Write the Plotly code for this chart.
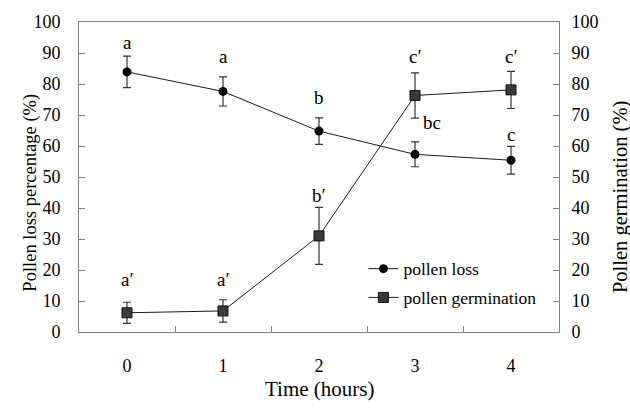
import plotly.graph_objects as go

times = ["0", "1", "2", "3", "4"]
loss = [83.9, 77.6, 64.8, 57.3, 55.4]
loss_err = [5.1, 4.7, 4.3, 4.0, 4.5]
germ = [6.2, 6.8, 31.0, 76.3, 78.1]
germ_err = [3.4, 3.6, 9.2, 7.3, 6.0]
loss_labels = ["a", "a", "b", "bc", "c"]
germ_labels = ["a′", "a′", "b′", "c′", "c′"]
loss_label_y = [93.5, 88.8, 75.5, 67.5, 63.8]
loss_label_dx = [0, 0, 0, 0.18, 0]
germ_label_y = [16.8, 16.8, 44.0, 88.8, 88.8]

FONT = "Liberation Serif"
AX = "#808080"

fig = go.Figure()
fig.add_trace(go.Scatter(
    x=times, y=loss, name="pollen loss", mode="lines+markers",
    line=dict(color="#1a1a1a", width=1),
    marker=dict(symbol="circle", size=9, color="black"),
    error_y=dict(type="data", array=loss_err, visible=True, color="#333333", thickness=1.2, width=4),
    legendgroup="a",
))
fig.add_trace(go.Scatter(
    x=times, y=germ, name="pollen germination", mode="lines+markers",
    line=dict(color="#1a1a1a", width=1),
    marker=dict(symbol="square", size=10, color="#3a3a3a", line=dict(color="#111111", width=1)),
    error_y=dict(type="data", array=germ_err, visible=True, color="#333333", thickness=1.2, width=4),
    yaxis="y2", legendgroup="b",
))

ann = []
for i, t in enumerate(times):
    ann.append(dict(x=i + loss_label_dx[i], y=loss_label_y[i], xref="x", yref="y", text=loss_labels[i],
                    showarrow=False, font=dict(family=FONT, size=19, color="black")))
    ann.append(dict(x=i, y=germ_label_y[i], xref="x", yref="y", text=germ_labels[i],
                    showarrow=False, font=dict(family=FONT, size=19, color="black")))

ann.append(dict(x=0.5, y=-0.184, xref="paper", yref="paper", xanchor="center", yanchor="middle",
                text="Time (hours)", showarrow=False, font=dict(family=FONT, size=21, color="black")))
ann.append(dict(x=-0.101, y=0.448, xref="paper", yref="paper", xanchor="center", yanchor="middle",
                text="Pollen loss percentage (%)", textangle=-90, showarrow=False,
                font=dict(family=FONT, size=18.5, color="black")))
ann.append(dict(x=1.127, y=0.435, xref="paper", yref="paper", xanchor="center", yanchor="middle",
                text="Pollen germination (%)", textangle=-90, showarrow=False,
                font=dict(family=FONT, size=20.5, color="black")))

fig.update_layout(
    width=630, height=411,
    margin=dict(l=79, r=71, t=17, b=79),
    paper_bgcolor="white", plot_bgcolor="white",
    font=dict(family=FONT, size=18, color="black"),
    showlegend=True,
    legend=dict(x=0.5925, y=0.262, xanchor="left", yanchor="top", bgcolor="rgba(0,0,0,0)",
                font=dict(family=FONT, size=17.5, color="black"), tracegroupgap=3, itemwidth=30),
    xaxis=dict(type="category", range=[-0.5, 4.5], tickson="boundaries", ticks="inside", ticklen=6,
               tickcolor=AX, showline=True, linecolor=AX, linewidth=1, mirror=True, showgrid=False,
               ticklabelstandoff=17, tickfont=dict(family=FONT, size=18)),
    yaxis=dict(range=[0, 100], dtick=10, ticks="inside", ticklen=6, tickcolor=AX, showline=True,
               linecolor=AX, linewidth=1, showgrid=False, zeroline=False, ticklabelstandoff=14,
               tickfont=dict(family=FONT, size=18)),
    yaxis2=dict(range=[0, 100], dtick=10, ticks="inside", ticklen=6, tickcolor=AX, showline=True,
                linecolor=AX, linewidth=1, showgrid=False, zeroline=False, overlaying="y", side="right",
                ticklabelstandoff=8, tickfont=dict(family=FONT, size=18)),
    annotations=ann,
)

fig.write_html("out.html")
